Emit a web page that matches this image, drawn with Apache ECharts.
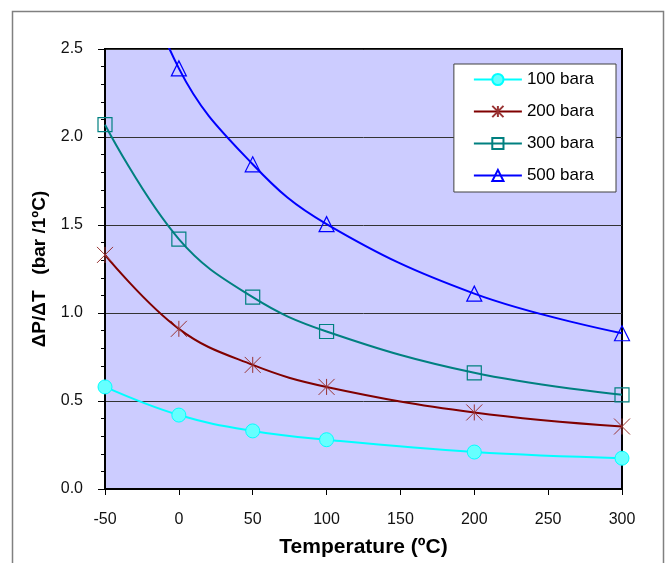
<!DOCTYPE html>
<html>
<head>
<meta charset="utf-8">
<script src="https://cdn.jsdelivr.net/npm/echarts@6/dist/echarts.min.js"></script>
<style>
  html, body { margin: 0; padding: 0; background: #fff; }
  #chart { width: 667px; height: 563px; }
</style>
</head>
<body>
<div id="chart"></div>
<script>
// 温度 (°C)
const temps = [-50, 0, 50, 100, 200, 300]
// 各压力下的 ΔP/ΔT
const bar100 = [0.58, 0.42, 0.33, 0.28, 0.21, 0.175]
const bar200 = [1.33, 0.91, 0.705, 0.58, 0.435, 0.355]
const bar300 = [2.07, 1.42, 1.09, 0.895, 0.66, 0.535]
const bar500 = [3.5, 2.39, 1.845, 1.505, 1.11, 0.885]
const seriesNames = ['100 bara', '200 bara', '300 bara', '500 bara']

const font = 'Liberation Sans, Arial, sans-serif'

function pairs(vals) {
  return temps.map((t, i) => [t, vals[i]])
}

let myChart = echarts.init(document.getElementById('chart'))

let option = {
  backgroundColor: '#fff',
  animation: false,
  graphic: [{
    type: 'rect',
    shape: { x: 12.5, y: 11.5, width: 651, height: 570 },
    style: { fill: 'none', stroke: '#808080', lineWidth: 1.5 },
    z: -1
  }],
  grid: {
    left: 105,
    top: 49,
    right: 45,
    bottom: 74,
    outerBoundsMode: 'none',
    containLabel: false,
    show: true,
    backgroundColor: '#ccccff',
    borderColor: '#000',
    borderWidth: 2
  },
  legend: {
    right: 51,
    top: 64,
    orient: 'vertical',
    itemGap: 15,
    itemWidth: 48,
    itemHeight: 14,
    padding: [7, 22, 8, 19],
    backgroundColor: '#fff',
    borderColor: '#404040',
    borderWidth: 1,
    textStyle: { fontFamily: font, fontSize: 17, color: '#000' },
    data: seriesNames
  },
  xAxis: {
    type: 'value',
    min: -50,
    max: 300,
    interval: 50,
    splitLine: { show: false },
    axisLine: { show: true, onZero: false, lineStyle: { color: '#000', width: 2 } },
    axisTick: { show: true, length: 6, lineStyle: { color: '#000' } },
    axisLabel: { fontFamily: font, fontSize: 16, color: '#111', margin: 23 },
    name: 'Temperature (ºC)',
    nameLocation: 'middle',
    nameGap: 48,
    nameTextStyle: { fontFamily: font, fontSize: 21, fontWeight: 'bold', color: '#000' }
  },
  yAxis: {
    type: 'value',
    min: 0,
    max: 2.5,
    interval: 0.5,
    splitLine: { show: true, lineStyle: { color: '#333', width: 1 } },
    axisLine: { show: true, onZero: false, lineStyle: { color: '#000', width: 2 } },
    axisTick: { show: true, length: 7, lineStyle: { color: '#000' } },
    minorTick: { show: true, splitNumber: 5, length: 4, lineStyle: { color: '#000' } },
    axisLabel: {
      fontFamily: font, fontSize: 16, color: '#111', margin: 22,
      formatter: (v) => v.toFixed(1)
    },
    name: 'ΔP/ΔT   (bar /1ºC)',
    nameLocation: 'middle',
    nameGap: 56,
    nameTextStyle: { fontFamily: font, fontSize: 19, fontWeight: 'bold', color: '#000' }
  },
  series: [{
    name: seriesNames[0],
    type: 'line',
    smooth: 0.4,
    clip: true,
    data: pairs(bar100),
    symbol: 'circle',
    symbolSize: 14,
    lineStyle: { color: '#00ffff', width: 2 },
    itemStyle: { color: '#66ffff', borderColor: '#00ffff', borderWidth: 1 }
  }, {
    name: seriesNames[1],
    type: 'line',
    smooth: 0.4,
    clip: true,
    data: pairs(bar200),
    symbol: 'path://M0,0L10,10M10,0L0,10M5,0L5,10',
    symbolSize: 16,
    lineStyle: { color: '#800000', width: 2 },
    itemStyle: { color: 'none', borderColor: '#993333', borderWidth: 1 }
  }, {
    name: seriesNames[2],
    type: 'line',
    smooth: 0.4,
    clip: true,
    data: pairs(bar300),
    symbol: 'rect',
    symbolSize: 14,
    lineStyle: { color: '#008080', width: 2 },
    itemStyle: { color: 'none', borderColor: '#008080', borderWidth: 1.2 }
  }, {
    name: seriesNames[3],
    type: 'line',
    smooth: 0.4,
    clip: true,
    data: pairs(bar500),
    symbol: 'triangle',
    symbolSize: 15,
    lineStyle: { color: '#0000ff', width: 2 },
    itemStyle: { color: 'none', borderColor: '#0000ff', borderWidth: 1.2 }
  }]
}

myChart.setOption(option)
window.addEventListener('resize', () => {
  myChart.resize()
})
</script>
</body>
</html>
